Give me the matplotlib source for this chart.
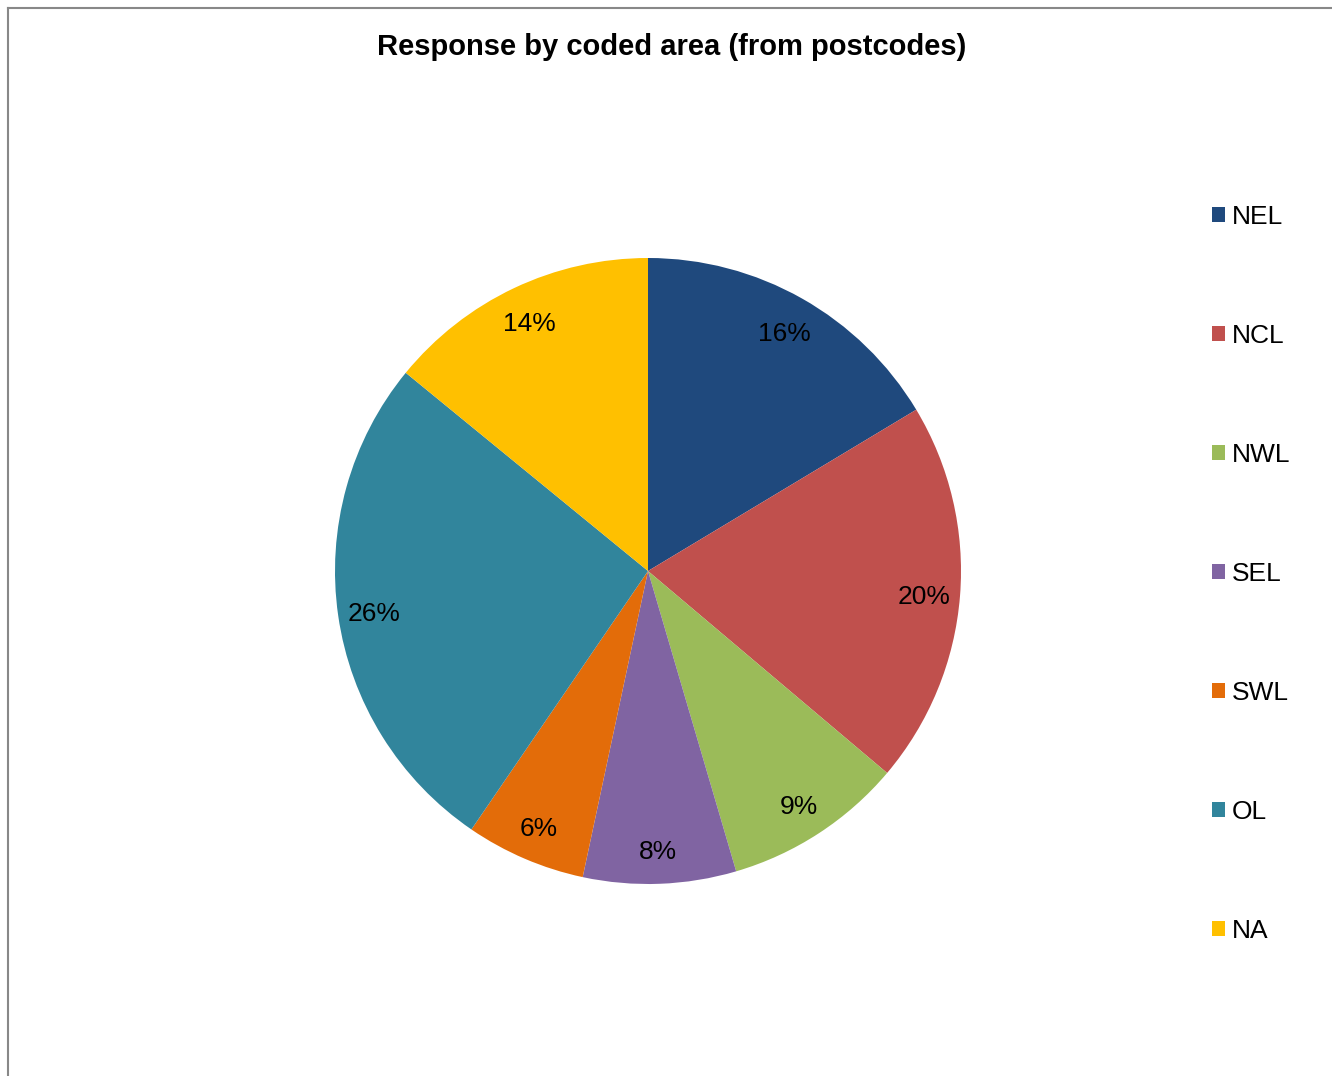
import matplotlib
matplotlib.use("Agg")
import matplotlib.pyplot as plt
from matplotlib.lines import Line2D

categories = ["NEL", "NCL", "NWL", "SEL", "SWL", "OL", "NA"]
values = [16.4, 19.8, 9.3, 7.9, 6.2, 26.4, 14.1]
colors = ["#1F497D", "#C0504D", "#9BBB59", "#8064A2", "#E36C09", "#31859C", "#FFC000"]
title = "Response by coded area (from postcodes)"

plt.rcParams['font.family'] = ['Liberation Sans', 'DejaVu Sans']

W, H = 1332, 1076
fig = plt.figure(figsize=(W / 100, H / 100), dpi=100)

# border lines (top and left)
fig.add_artist(Line2D([8 / W, 1], [1 - 8 / H, 1 - 8 / H], color="#888888", lw=1.5))
fig.add_artist(Line2D([8 / W, 8 / W], [0, 1 - 8 / H], color="#888888", lw=1.5))

cx, cy, r = 648, 571, 313
ax = fig.add_axes([(cx - r) / W, (H - cy - r) / H, 2 * r / W, 2 * r / H])
wedges, texts, autotexts = ax.pie(
    values, colors=colors, startangle=90, counterclock=False,
    autopct=lambda p: f"{p:.0f}%", pctdistance=0.885,
    textprops=dict(fontsize=19, color="black"),
    wedgeprops=dict(linewidth=0))
for t in autotexts:
    x, y = t.get_position()
    t.set_position((x, y - 0.012))
ax.set_xlim(-1, 1)
ax.set_ylim(-1, 1)
ax.set_aspect("equal")
ax.axis("off")

fig.text(672 / W, 1 - 47 / H, title, ha="center", va="center",
         fontsize=21, fontweight="bold")

leg = fig.legend(wedges, categories, loc="upper left",
                 bbox_to_anchor=(1212 / W, 1 - 205 / H),
                 frameon=False, fontsize=19, handlelength=0.5, handleheight=0.5,
                 handletextpad=0.25, labelspacing=3.60, borderpad=0, borderaxespad=0)

fig.savefig("out.png", dpi=100)
